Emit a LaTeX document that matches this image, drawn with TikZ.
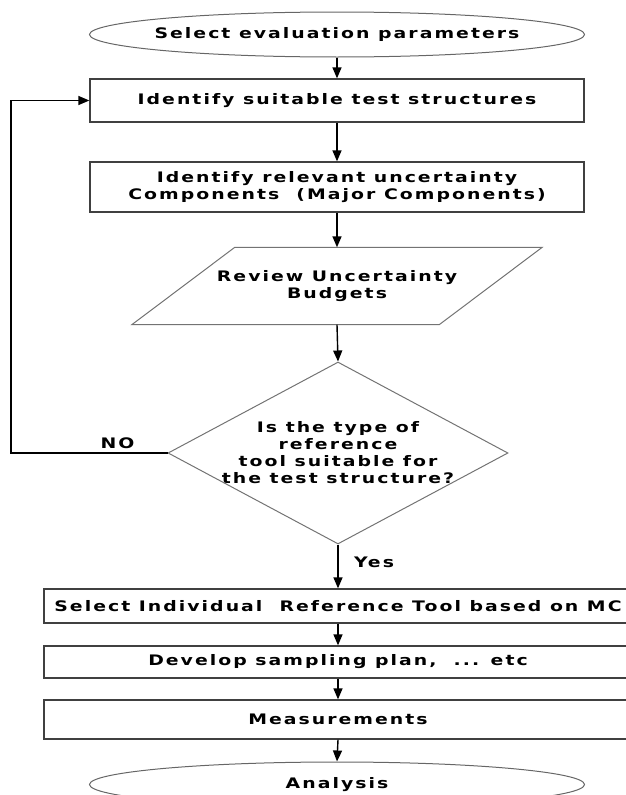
\documentclass[tikz,border=0pt]{standalone}
\usepackage{fontspec}
\setmainfont{DejaVu Sans}[FakeStretch=1.3,LetterSpace=14]
\usetikzlibrary{shapes.geometric,arrows.meta}

\begin{document}
\begin{tikzpicture}[x=1pt,y=-1pt,
    txt/.style={font=\bfseries\fontsize{14.5}{17}\selectfont,align=center},
    box/.style={txt,rectangle,draw=black!75,line width=1.3pt,inner sep=0pt},
    term/.style={txt,ellipse,draw=black!60,line width=1pt,inner ysep=0pt,inner xsep=-50pt,
      minimum width=495pt,minimum height=45pt},
    outline/.style={draw=black!55,line width=1pt},
    flow/.style={-{Triangle[length=11pt,width=9pt]},line width=1.4pt}]
  \clip (0,0) rectangle (626,795);
  \node[term] (start) at (337,34.5) {Select evaluation parameters};
  \node[box,minimum width=494pt,minimum height=43pt] (ident) at (337,100.5)
    {Identify suitable test structures};
  \node[box,minimum width=494pt,minimum height=50pt] (comp) at (337,187)
    {Identify relevant uncertainty\\Components\ \ (Major Components)};
  \node[txt,minimum width=307pt,minimum height=77pt,inner sep=0pt] (review) at (337,286)
    {Review Uncertainty\\Budgets};
  \draw[outline] ([xshift=51.5pt]review.north west) -- ([xshift=51.5pt]review.north east)
    -- ([xshift=-51.5pt]review.south east) -- ([xshift=-51.5pt]review.south west) -- cycle;
  \node[diamond,outline,minimum width=340pt,minimum height=182pt,inner sep=0pt] (dec) at (338,453) {};
  \node[txt] (dectxt) at (dec.center)
    {Is the type of\\reference\\tool suitable for\\the test structure?};
  \node[box,minimum width=588pt,minimum height=34pt] (sel) at (338,606)
    {Select Individual\ \ Reference Tool based on MC};
  \node[box,minimum width=588pt,minimum height=32pt] (dev) at (338,662)
    {Develop sampling plan,\ \ ... etc};
  \node[box,minimum width=588pt,minimum height=39pt] (meas) at (338,719.5) {Measurements};
  \node[term] (finish) at (337,784.5) {Analysis};
  \coordinate (back) at (11,453);

  \draw[flow] (start.south) -- (ident.north);
  \draw[flow] (ident.south) -- (comp.north);
  \draw[flow] (comp.south) -- (review.north);
  \draw[flow] (review.south) -- (dec.north);
  \draw[flow] (dec.south) -- node[txt,right=12pt,pos=0.4] (yes) {Yes} (sel.north);
  \draw[flow] (dec.west) -- node[txt,above,pos=0.32] (no) {NO} (back) |- (ident.west);
  \draw[flow] (sel.south) -- (dev.north);
  \draw[flow] (dev.south) -- (meas.north);
  \draw[flow] (meas.south) -- (finish.north);
\end{tikzpicture}
\end{document}
